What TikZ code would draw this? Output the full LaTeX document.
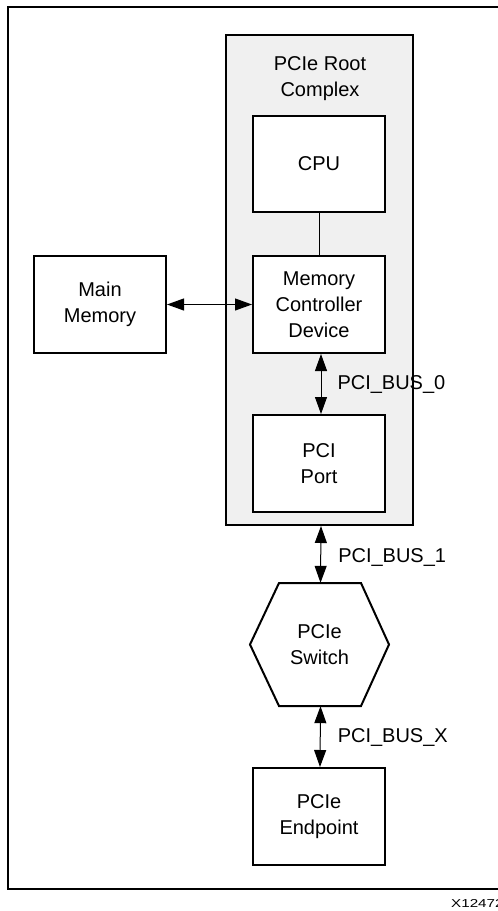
\documentclass[tikz,border=0pt]{standalone}
\usepackage{fontspec}
\setmainfont{Liberation Sans}
\usetikzlibrary{arrows.meta}
\tikzset{
  blk/.style={draw=black, line width=2pt, fill=white, inner sep=0pt, align=center,
    font=\fontsize{20}{26}\selectfont},
  lbl/.style={font=\fontsize{20}{26}\selectfont, anchor=west, inner sep=0pt},
  bus/.style={line width=1pt, {Triangle[length=17pt,width=12pt]}-{Triangle[length=17pt,width=12pt]}},
  link/.style={line width=1pt}
}
\begin{document}
\begin{tikzpicture}[x=1pt,y=-1pt]
\useasboundingbox (0,0) rectangle (498,911);
% outer frame
\draw[line width=2pt] (8,7) rectangle (530,889);
\node[anchor=base west, inner sep=0pt, font=\fontsize{11.5}{14}\selectfont] (fig) at (451,907) {\scalebox{1.32}[1]{X12472}};
% root complex
\node[draw=black, line width=2pt, fill={rgb,255:red,240;green,240;blue,240}, minimum width=187pt, minimum height=490pt, inner sep=0pt] (rc) at (319.5,280) {};
\node[align=center, inner sep=0pt, font=\fontsize{20}{26}\selectfont] (rct) at (320,78.5) {PCIe Root\\Complex};
% boxes
\node[blk, minimum width=132pt, minimum height=96pt] (cpu) at (319,164) {CPU};
\node[blk, minimum width=132pt, minimum height=97pt] (mcd) at (319,304.5) {Memory\\Controller\\Device};
\node[blk, minimum width=132pt, minimum height=97pt] (mm) at (100,304.5) {Main\\Memory};
\node[blk, minimum width=132pt, minimum height=97pt] (port) at (319,463.5) {PCI\\Port};
\node[blk, minimum width=132pt, minimum height=97pt] (ep) at (319,816.5) {PCIe\\Endpoint};
% hexagon switch
\draw[line width=2pt, fill=white] (279,583) -- (361,583) -- (389,644.5) -- (361,706) -- (279,706) -- (250,644.5) -- cycle;
\node[inner sep=0pt, align=center, minimum width=139pt, minimum height=123pt, font=\fontsize{20}{26}\selectfont] (sw) at (319.5,644.5) {PCIe\\Switch};
% connectors
\draw[link] (cpu.south) -- (mcd.north);
\draw[bus] (mm.east) -- (mcd.west);
\draw[bus] ([xshift=2pt]mcd.south) -- ([xshift=2pt]port.north) node[lbl, midway, xshift=16pt] (b0) {PCI\_BUS\_0};
\draw[bus] ([xshift=1.5pt]rc.south) -- ([xshift=1pt]sw.north) node[lbl, midway, xshift=17pt, yshift=-3pt] (b1) {PCI\_BUS\_1};
\draw[bus] ([xshift=1pt]sw.south) -- ([xshift=1pt]ep.north) node[lbl, midway, xshift=17pt, yshift=-1pt] (bx) {PCI\_BUS\_X};
\end{tikzpicture}
\end{document}
